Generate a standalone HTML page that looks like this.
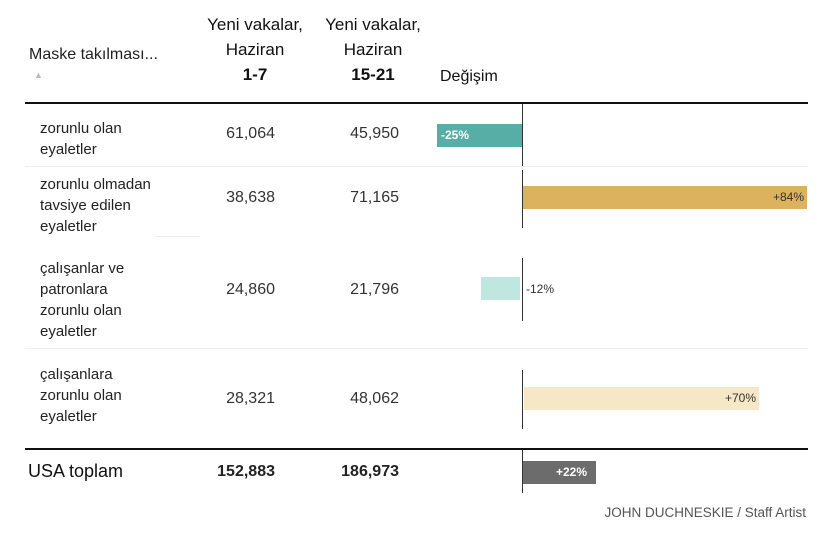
<!DOCTYPE html>
<html><head><meta charset="utf-8"><style>
body{margin:0;background:#fff;width:825px;height:537px;overflow:hidden;position:relative;font-family:"Liberation Sans",sans-serif;color:#222}
div{position:absolute}
.h{font-size:17px;color:#111;text-align:center;line-height:25px}
.l{left:40px;font-size:15px;line-height:21px;color:#222}
.n{font-size:16px;text-align:right;color:#333}
.ax{left:522px;width:1px;background:#333}
.sep{height:1px;background:#eee}
.bl{font-size:12px}
</style></head><body>
<div style="left:29px;top:46px;font-size:16px">Maske takılması...</div>
<div style="left:34px;top:70px;font-size:9px;color:#bbb">▲</div>
<div class="h" style="left:195px;top:12px;width:120px">Yeni vakalar,<br>Haziran<br><b>1-7</b></div>
<div class="h" style="left:313px;top:12px;width:120px">Yeni vakalar,<br>Haziran<br><b>15-21</b></div>
<div class="h" style="left:440px;top:64px;font-size:16px">Değişim</div>
<div style="left:25px;top:102px;width:783px;height:2px;background:#111"></div>
<div style="left:25px;top:448px;width:783px;height:2px;background:#111"></div>
<div class="sep" style="left:25px;top:166px;width:783px"></div>
<div class="sep" style="left:155px;top:236px;width:45px"></div>
<div class="sep" style="left:25px;top:348px;width:783px"></div>
<div class="ax" style="top:104px;height:62px"></div>
<div class="ax" style="top:170px;height:58px"></div>
<div class="ax" style="top:258px;height:63px"></div>
<div class="ax" style="top:370px;height:59px"></div>
<div class="ax" style="top:450px;height:43px"></div>

<div class="l" style="top:118px">zorunlu olan<br>eyaletler</div>
<div class="n" style="left:175px;top:125px;width:100px">61,064</div>
<div class="n" style="left:299px;top:125px;width:100px">45,950</div>
<div style="left:437px;top:124px;width:85px;height:23px;background:#56aea6"></div>
<div class="bl" style="left:441px;top:128px;color:#fff;font-weight:bold">-25%</div>

<div class="l" style="top:174px">zorunlu olmadan<br>tavsiye edilen<br>eyaletler</div>
<div class="n" style="left:175px;top:189px;width:100px">38,638</div>
<div class="n" style="left:299px;top:189px;width:100px">71,165</div>
<div style="left:523px;top:186px;width:284px;height:23px;background:#dcb25f"></div>
<div class="bl" style="left:760px;top:190px;width:44px;text-align:right;color:#333">+84%</div>

<div class="l" style="top:258px">çalışanlar ve<br>patronlara<br>zorunlu olan<br>eyaletler</div>
<div class="n" style="left:175px;top:281px;width:100px">24,860</div>
<div class="n" style="left:299px;top:281px;width:100px">21,796</div>
<div style="left:481px;top:277px;width:39px;height:23px;background:#bfe6df"></div>
<div class="bl" style="left:526px;top:282px;color:#333">-12%</div>

<div class="l" style="top:364px">çalışanlara<br>zorunlu olan<br>eyaletler</div>
<div class="n" style="left:175px;top:390px;width:100px">28,321</div>
<div class="n" style="left:299px;top:390px;width:100px">48,062</div>
<div style="left:524px;top:387px;width:235px;height:23px;background:#f6e8c6"></div>
<div class="bl" style="left:712px;top:391px;width:44px;text-align:right;color:#333">+70%</div>

<div style="left:28px;top:461px;font-size:18px;color:#111">USA toplam</div>
<div class="n" style="left:175px;top:463px;width:100px;font-weight:bold;color:#222">152,883</div>
<div class="n" style="left:299px;top:463px;width:100px;font-weight:bold;color:#222">186,973</div>
<div style="left:523px;top:461px;width:73px;height:23px;background:#6c6c6c"></div>
<div class="bl" style="left:556px;top:465px;color:#fff;font-weight:bold">+22%</div>

<div style="left:560px;top:505px;width:246px;text-align:right;font-size:13.5px;color:#555">JOHN DUCHNESKIE / Staff Artist</div>
</body></html>
